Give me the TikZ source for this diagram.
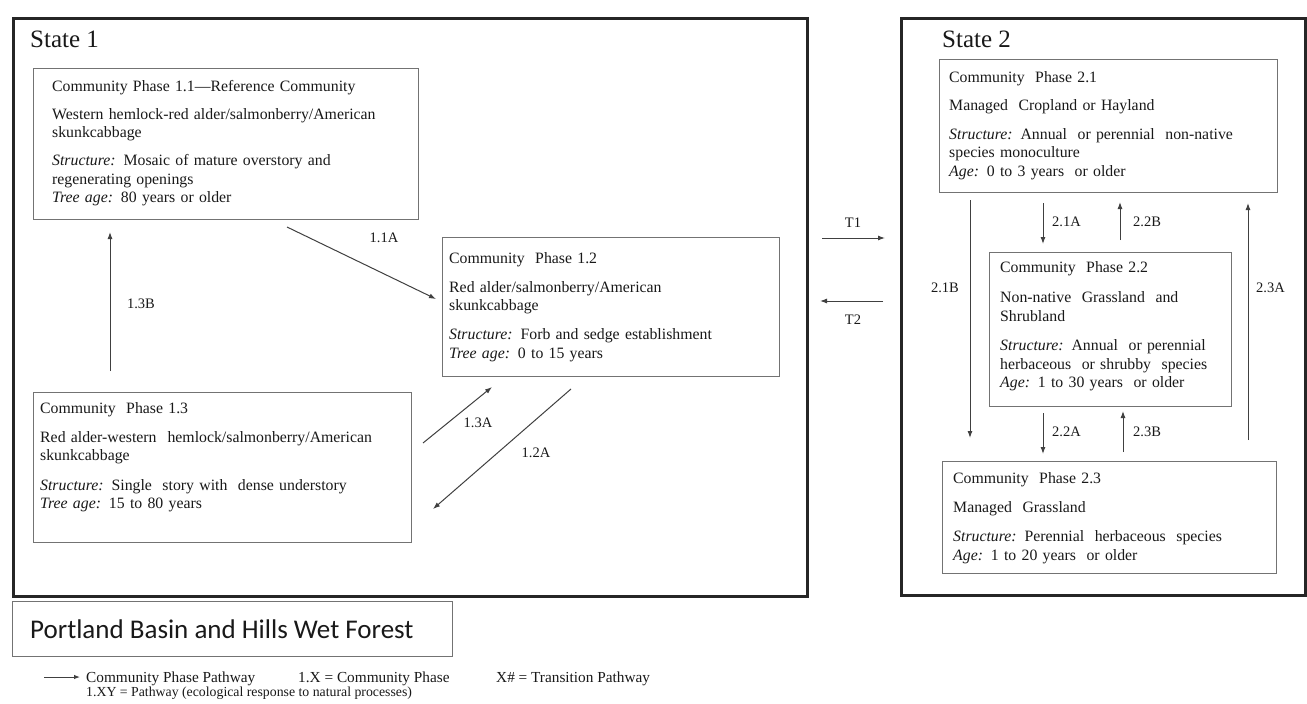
\documentclass[tikz,border=0pt]{standalone}
\usepackage{fontspec}
\setmainfont{Liberation Serif}
\newfontfamily\carlfont{Carlito}
\usetikzlibrary{arrows.meta}
\begin{document}
\begin{tikzpicture}[x=1pt,y=-1pt,
  statebox/.style={draw=black!85, line width=2.6pt, anchor=north west, inner sep=0pt},
  phasebox/.style={draw=black!55, line width=1.2pt, anchor=north west, inner sep=0pt},
  ptext/.style={anchor=base west, inner sep=0pt, text width=#1, align=left,
    font=\fontsize{15.8}{18.5}\selectfont, text=black!90},
  statetitle/.style={anchor=base west, inner sep=0pt, font=\fontsize{25}{30}\selectfont, text=black!90},
  plabel/.style={inner sep=0pt, font=\fontsize{14.5}{17}\selectfont, text=black!90},
  arr/.style={-{Latex[length=7pt,width=5pt]}, line width=1pt, draw=black!75},
  legtext/.style={anchor=base west, inner sep=0pt, font=\fontsize{15.3}{16}\selectfont, text=black!90},
  legtextb/.style={anchor=base west, inner sep=0pt, font=\fontsize{13.8}{16}\selectfont, text=black!90}
]
\useasboundingbox (0,0) rectangle (1307,704);
\fill[white] (0,0) rectangle (1307,704);

% State boxes
\node[statebox, minimum width=794, minimum height=578] (s1) at (12,17) {};
\node[statebox, minimum width=404, minimum height=577] (s2) at (900,17) {};
\node[statetitle] (s1t) at (30,47) {State 1};
\node[statetitle] (s2t) at (942,47) {State 2};

% Phase boxes
\node[phasebox, minimum width=385, minimum height=151] (b11) at (33,68) {};
\node[phasebox, minimum width=337, minimum height=139] (b12) at (442,237) {};
\node[phasebox, minimum width=378, minimum height=150] (b13) at (33,392) {};
\node[phasebox, minimum width=338, minimum height=133] (b21) at (939,59) {};
\node[phasebox, minimum width=242, minimum height=154] (b22) at (989,252) {};
\node[phasebox, minimum width=334, minimum height=112] (b23) at (942,461) {};

% Phase texts
\node[ptext=360] (t11) at (52,91) {Community Phase 1.1—Reference Community\\[9.5pt]
Western hemlock-red alder/salmonberry/American\\ skunkcabbage\\[9.5pt]
\textit{Structure:} Mosaic of mature overstory and\\ regenerating openings\\
\textit{Tree age:} 80 years or older};

\node[ptext=320] (t12) at (449,263) {Community\ \ Phase 1.2\\[10.5pt]
Red alder/salmonberry/American\\ skunkcabbage\\[10.5pt]
\textit{Structure:} Forb and sedge establishment\\
\textit{Tree age:} 0 to 15 years};

\node[ptext=365] (t13) at (40,413) {Community\ \ Phase 1.3\\[10.5pt]
Red alder-western\hspace{11pt}hemlock/salmonberry/American\\ skunkcabbage\\[11pt]
\textit{Structure:} Single\ \ story with\ \ dense understory\\
\textit{Tree age:} 15 to 80 years};

\node[ptext=320] (t21) at (949,82) {Community\ \ Phase 2.1\\[10pt]
Managed\ \ Cropland or Hayland\\[10pt]
\textit{Structure:} Annual\ \ or perennial\ \ non-native\\ species monoculture\\
\textit{Age:} 0 to 3 years\ \ or older};

\node[ptext=225] (t22) at (1000,272) {Community\ \ Phase 2.2\\[12pt]
Non-native\ \ Grassland\ \ and\\ Shrubland\\[11pt]
\textit{Structure:} Annual\ \ or perennial\\ herbaceous\ \ or shrubby\ \ species\\
\textit{Age:} 1 to 30 years\ \ or older};

\node[ptext=315] (t23) at (953,483) {Community\ \ Phase 2.3\\[11pt]
Managed\ \ Grassland\\[10.5pt]
\textit{Structure:} Perennial\ \ herbaceous\ \ species\\
\textit{Age:} 1 to 20 years\ \ or older};

% Pathway end points
\coordinate (p13Bs) at (110,371); \coordinate (p13Be) at (110,232);
\coordinate (p11As) at (287,227); \coordinate (p11Ae) at (436,299);
\coordinate (p13As) at (423,443); \coordinate (p13Ae) at (492,387);
\coordinate (p12As) at (571,389); \coordinate (p12Ae) at (433,509);
\coordinate (pT1s) at (822,238);  \coordinate (pT1e) at (885,238);
\coordinate (pT2s) at (883,301);  \coordinate (pT2e) at (820,301);
\coordinate (p21Bs) at (970,200); \coordinate (p21Be) at (970,438);
\coordinate (p21As) at (1043,203); \coordinate (p21Ae) at (1043,244);
\coordinate (p22Bs) at (1120,240); \coordinate (p22Be) at (1120,202);
\coordinate (p22As) at (1043,413); \coordinate (p22Ae) at (1043,454);
\coordinate (p23Bs) at (1123,452); \coordinate (p23Be) at (1123,411);
\coordinate (p23As) at (1248,440); \coordinate (p23Ae) at (1248,203);

\draw[arr] (p13Bs) -- (p13Be);
\draw[arr] (p11As) -- (p11Ae);
\draw[arr] (p13As) -- (p13Ae);
\draw[arr] (p12As) -- (p12Ae);
\draw[arr] (pT1s) -- (pT1e);
\draw[arr] (pT2s) -- (pT2e);
\draw[arr] (p21Bs) -- (p21Be);
\draw[arr] (p21As) -- (p21Ae);
\draw[arr] (p22Bs) -- (p22Be);
\draw[arr] (p22As) -- (p22Ae);
\draw[arr] (p23Bs) -- (p23Be);
\draw[arr] (p23As) -- (p23Ae);

% Pathway labels
\node[plabel] (l13B) at (141,304) {1.3B};
\node[plabel] (l11A) at (384,238) {1.1A};
\node[plabel] (l13A) at (478,423) {1.3A};
\node[plabel] (l12A) at (536,453) {1.2A};
\node[plabel] (lT1) at (853,223) {T1};
\node[plabel] (lT2) at (853,320) {T2};
\node[plabel] (l21B) at (945,288) {2.1B};
\node[plabel, anchor=west] (l21A) at (1052,222) {2.1A};
\node[plabel, anchor=west] (l22B) at (1133,222) {2.2B};
\node[plabel, anchor=west] (l22A) at (1052,432) {2.2A};
\node[plabel, anchor=west] (l23B) at (1133,432) {2.3B};
\node[plabel, anchor=west] (l23A) at (1256,288) {2.3A};

% Title box
\node[phasebox, minimum width=440, minimum height=55] (tb) at (12,601) {};
\node[anchor=base west, inner sep=0pt, font=\carlfont\fontsize{27}{32}\selectfont, text=black!90] (tbt) at (30,638) {Portland Basin and Hills Wet Forest};

% Legend
\coordinate (lgs) at (44,677); \coordinate (lge) at (80,677);
\draw[-{Latex[length=6pt,width=4.5pt]}, line width=1pt, draw=black!75] (lgs) -- (lge);
\node[legtext] (lg1) at (86,682) {Community Phase Pathway};
\node[legtext] (lg2) at (298,682) {1.X = Community Phase};
\node[legtext] (lg3) at (496,682) {X\# = Transition Pathway};
\node[legtextb] (lg4) at (86,696) {1.XY = Pathway (ecological response to natural processes)};
\end{tikzpicture}
\end{document}
